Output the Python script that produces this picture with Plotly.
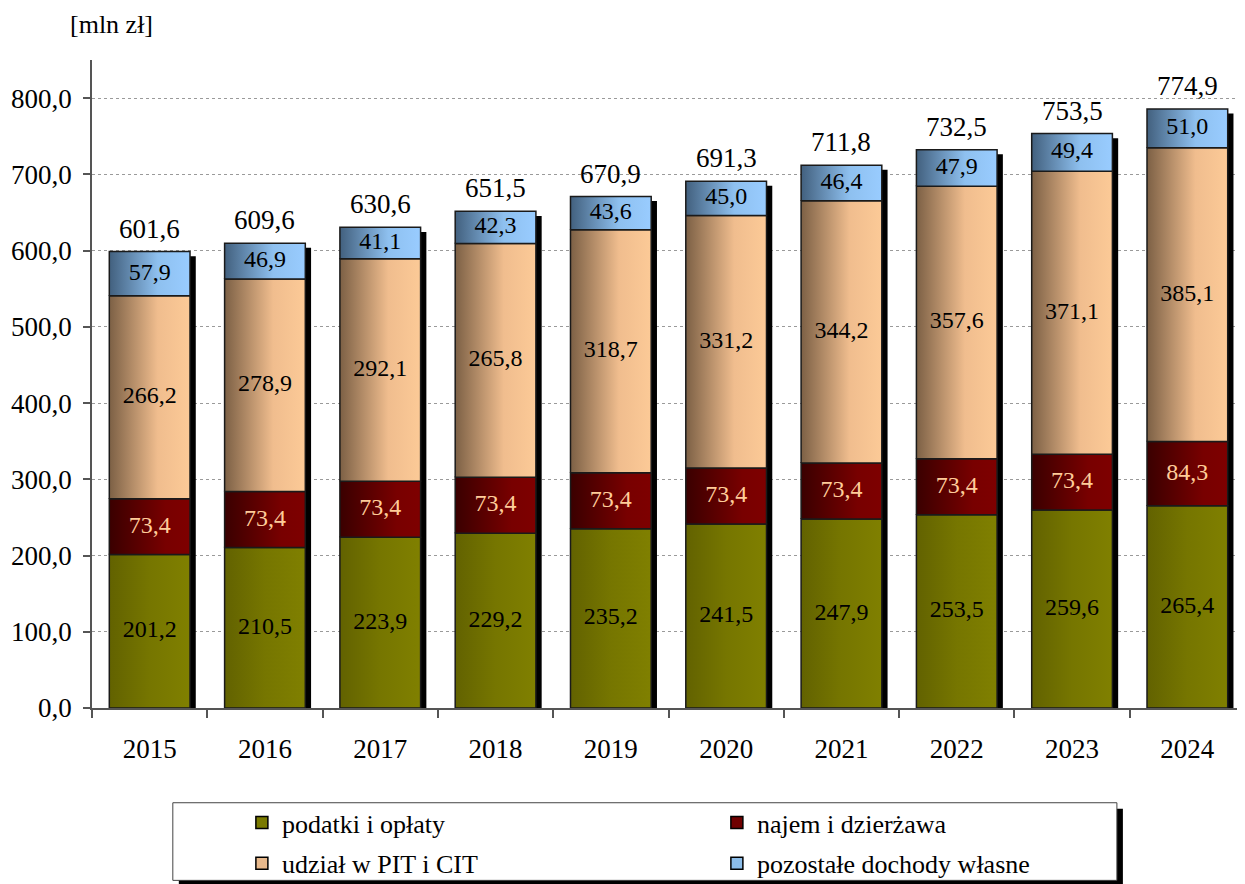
import plotly.graph_objects as go

years = ["2015", "2016", "2017", "2018", "2019", "2020", "2021", "2022", "2023", "2024"]
podatki = [201.2, 210.5, 223.9, 229.2, 235.2, 241.5, 247.9, 253.5, 259.6, 265.4]
najem = [73.4, 73.4, 73.4, 73.4, 73.4, 73.4, 73.4, 73.4, 73.4, 84.3]
# heights of the PIT/CIT segments as drawn (2018 is drawn taller than its label says)
udzial = [266.2, 278.9, 292.1, 306.6, 318.7, 331.2, 344.2, 357.6, 371.1, 385.1]
udzial_labels = [266.2, 278.9, 292.1, 265.8, 318.7, 331.2, 344.2, 357.6, 371.1, 385.1]
pozostale = [57.9, 46.9, 41.1, 42.3, 43.6, 45.0, 46.4, 47.9, 49.4, 51.0]
totals = [601.6, 609.6, 630.6, 651.5, 670.9, 691.3, 711.8, 732.5, 753.5, 774.9]

FONT = "Liberation Serif, Times New Roman, serif"


def pl(v):
    return f"{v:.1f}".replace(".", ",")


# name, heights, labels, gradient, legend colour, label colour, legend row
series = [
    ("podatki i opłaty", podatki, podatki,
     [[0, "#626200"], [0.5, "#767600"], [1, "#808000"]], "#7a7a00", "black", "legend"),
    ("najem i dzierżawa", najem, najem,
     [[0, "#3a0000"], [0.7, "#780000"], [1, "#7e0000"]], "#700000", "#ffcc99", "legend"),
    ("udział w PIT i CIT", udzial, udzial_labels,
     [[0, "#7c6045"], [0.6, "#f0bd8e"], [1, "#fcca97"]], "#e8b98c", "black", "legend2"),
    ("pozostałe dochody własne", pozostale, pozostale,
     [[0, "#42607e"], [0.6, "#8ec0ef"], [1, "#99ccff"]], "#8cbde9", "black", "legend2"),
]

hw = 0.35      # half bar width (category units)
sdx = 0.05     # shadow offset x
sdy = 6.0      # shadow offset y (value units)

fig = go.Figure()

stack_top = [sum(s[1][i] for s in series) for i in range(len(years))]

# drop shadows
sx, sy = [], []
for i, top in enumerate(stack_top):
    sx += [i - hw + sdx, i + hw + sdx, i + hw + sdx, i - hw + sdx, i - hw + sdx, None]
    sy += [0, 0, top - sdy, top - sdy, 0, None]
fig.add_trace(go.Scatter(x=sx, y=sy, mode="lines", fill="toself", fillcolor="black",
                         line=dict(color="black", width=0), showlegend=False, hoverinfo="skip"))

base = [0.0] * len(years)
for name, vals, labels, cscale, lcol, tcol, leg in series:
    mids = []
    for i, v in enumerate(vals):
        b, t = base[i], base[i] + v
        fig.add_trace(go.Scatter(
            x=[i - hw, i + hw, i + hw, i - hw, i - hw], y=[b, b, t, t, b],
            mode="lines", fill="toself",
            fillgradient=dict(type="horizontal", colorscale=cscale),
            line=dict(color="#1a1a1a", width=1.5),
            legendgroup=name, showlegend=False, hoverinfo="skip"))
        mids.append((b + t) / 2)
        base[i] = t
    fig.add_trace(go.Scatter(
        x=list(range(len(years))), y=mids, mode="text", text=[pl(v) for v in labels],
        textfont=dict(family=FONT, size=24, color=tcol),
        legendgroup=name, showlegend=False, hoverinfo="skip"))
    # legend entry
    fig.add_trace(go.Bar(x=[None], y=[None], name=name, legendgroup=name, legend=leg,
                         marker=dict(color=lcol, line=dict(color="black", width=1.5))))

for i, t in enumerate(totals):
    fig.add_annotation(x=i, y=stack_top[i], text=pl(t), showarrow=False,
                       yanchor="bottom", yshift=6,
                       font=dict(family=FONT, size=27, color="black"))

fig.add_annotation(x=0.0173, y=1.055, xref="paper", yref="paper", text="[mln zł]",
                   showarrow=False, xanchor="center", yanchor="middle",
                   font=dict(family=FONT, size=26, color="black"))

# legend frame with shadow
fig.add_shape(type="rect", xref="paper", yref="paper", x0=0.0753, x1=0.8941,
              y0=-0.2753, y1=-0.1555, fillcolor="black", line=dict(width=0), layer="above")
fig.add_shape(type="rect", xref="paper", yref="paper", x0=0.0701, x1=0.8889,
              y0=-0.266, y1=-0.1462, fillcolor="white",
              line=dict(color="#444", width=1), layer="above")

leg_style = dict(orientation="h", x=0.130, xanchor="left", yanchor="top",
                 entrywidth=430, entrywidthmode="pixels", bgcolor="rgba(0,0,0,0)",
                 font=dict(family=FONT, size=26, color="black"), traceorder="normal")

# page body has an 8px margin, so the figure is 8px smaller than the window
fig.update_layout(
    width=1237, height=876,
    margin=dict(l=84, r=0, t=52, b=176, autoexpand=False),
    plot_bgcolor="white", paper_bgcolor="white",
    separators=", ",
    font=dict(family=FONT, size=26, color="black"),
    showlegend=True,
    legend=dict(y=-0.1404, **leg_style),
    legend2=dict(y=-0.2036, **leg_style),
    xaxis=dict(range=[-0.5, 9.5], tickvals=list(range(len(years))), ticktext=years,
               ticks="", showgrid=False, zeroline=False, showline=True, linecolor="#555",
               linewidth=1.5, ticklabelstandoff=16,
               tickfont=dict(family=FONT, size=27, color="black"),
               minor=dict(tick0=-0.5, dtick=1, ticks="outside", ticklen=8,
                          tickcolor="#555", tickwidth=1.5, showgrid=False)),
    yaxis=dict(range=[0, 850], tickvals=[0, 100, 200, 300, 400, 500, 600, 700, 800],
               tickformat=".1f", ticks="outside", ticklen=7, tickcolor="#555", tickwidth=1.5,
               showline=True, linecolor="#555", linewidth=1.5, zeroline=False,
               showgrid=True, gridcolor="#9a9a9a", gridwidth=1, griddash="3px,3px",
               ticklabelstandoff=6,
               tickfont=dict(family=FONT, size=27, color="black")),
)

fig.write_html("out.html")
